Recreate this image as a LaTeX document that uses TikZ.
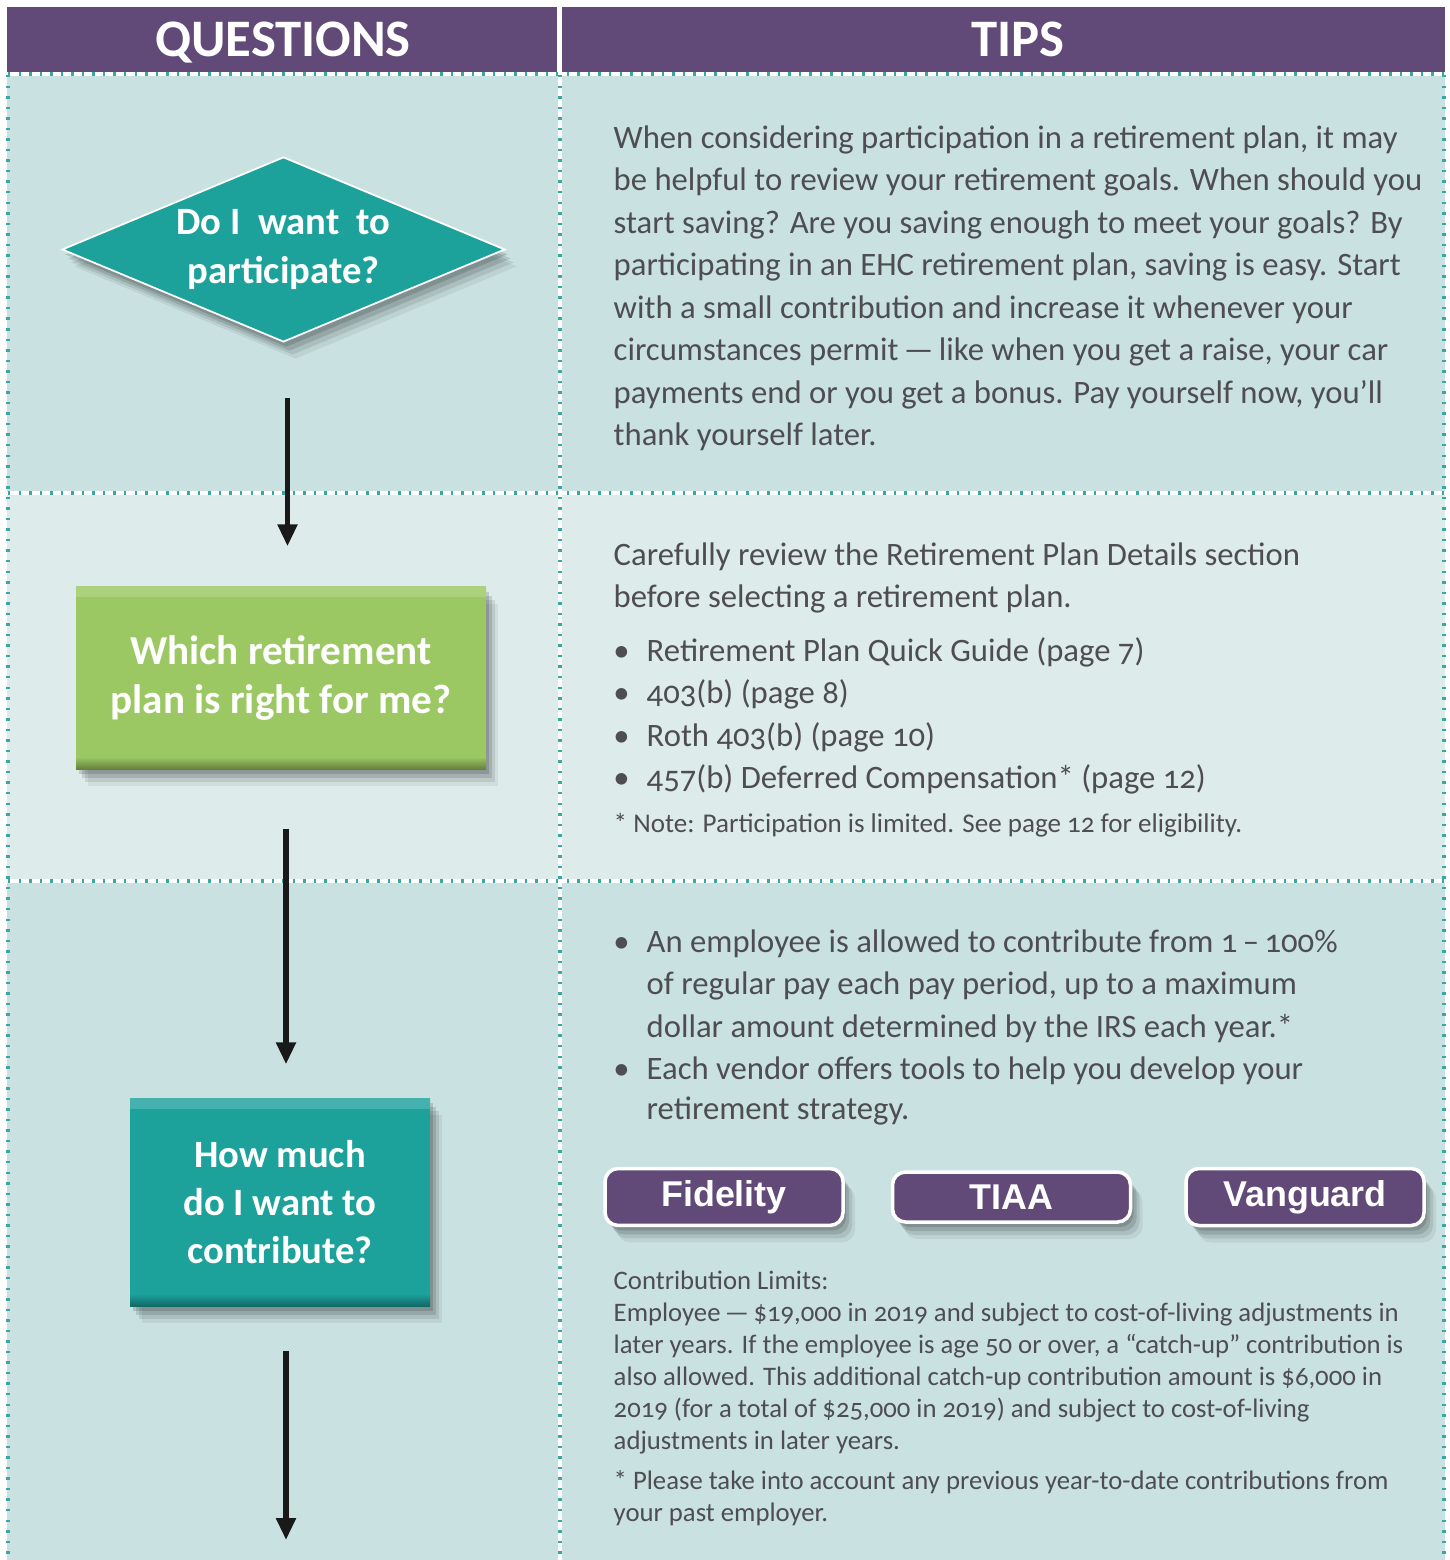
\documentclass[tikz,border=0pt]{standalone}
\usepackage{fontspec}
\setmainfont{Carlito}[Numbers=OldStyle]
\newfontfamily\vendorfont{Liberation Sans}
\usepackage{tikz}
\usetikzlibrary{
    arrows.meta,
    positioning,
    shapes.geometric,
    shadows
}
\usepackage{xcolor}
\definecolor{hdrpurple}{RGB}{97,74,120}
\definecolor{qteal}{RGB}{29,161,155}
\definecolor{qgreen}{RGB}{155,200,98}
\definecolor{rowdark}{RGB}{201,225,225}
\definecolor{rowlight}{RGB}{222,235,235}
\definecolor{tiptext}{RGB}{77,77,82}
\definecolor{dotteal}{RGB}{58,168,162}

\begin{document}
\begin{tikzpicture}[
        >={Triangle[length=0.22cm,width=0.19cm]},
        flow/.style={->, line width=1.5pt, draw=black!90},
        softshadow/.style={
            general shadow={shadow xshift=0.12cm, shadow yshift=-0.17cm,
                fill=black, opacity=0.06},
            general shadow={shadow xshift=0.09cm, shadow yshift=-0.13cm,
                fill=black, opacity=0.09},
            general shadow={shadow xshift=0.06cm, shadow yshift=-0.09cm,
                fill=black, opacity=0.12},
            general shadow={shadow xshift=0.03cm, shadow yshift=-0.05cm,
                fill=black, opacity=0.14}
        },
        bevel/.style={
            path picture={
                \fill[top color=white!18!#1, bottom color=#1]
                    (path picture bounding box.north west) rectangle
                    ([yshift=-0.10cm]path picture bounding box.north east);
                \fill[top color=#1, bottom color=black!35!#1]
                    ([yshift=0.12cm]path picture bounding box.south west) rectangle
                    (path picture bounding box.south east);
            }
        },
        question/.style={
            text=white,
            align=center,
            inner sep=0pt,
            font=\bfseries\fontsize{11}{13.7}\selectfont,
            softshadow
        },
        header/.style={
            anchor=base,
            text=white,
            font=\bfseries\fontsize{15}{15}\selectfont
        },
        tip/.style={
            anchor=base west,
            align=left,
            inner sep=0pt,
            text=tiptext,
            font=\fontsize{9.3}{12.1}\selectfont
        },
        smalltip/.style={
            tip,
            font=\fontsize{7.6}{9.1}\selectfont
        },
        vendor/.style={
            rounded corners=0.13cm,
            fill=hdrpurple,
            draw=white,
            line width=1pt,
            minimum width=2.38cm,
            minimum height=0.50cm,
            text=white,
            font=\vendorfont\bfseries\fontsize{10.2}{10.2}\selectfont,
            softshadow
        },
        divider/.style={white, line width=1pt},
        dots/.style={dotteal, line width=0.9pt, dash pattern=on 0.7pt off 2.3pt}
    ]
        \useasboundingbox (0,0) rectangle (14.49,-15.60);

        % backgrounds
        \fill[rowdark]  (0.07,-0.75) rectangle (14.45,-4.93);
        \fill[rowlight] (0.07,-4.93) rectangle (14.45,-8.81);
        \fill[rowdark]  (0.07,-8.81) rectangle (14.45,-15.60);
        \fill[hdrpurple] (0.07,-0.07) rectangle (5.57,-0.73);
        \fill[hdrpurple] (5.62,-0.07) rectangle (14.45,-0.73);

        % grid lines
        \foreach \y in {-0.74,-4.93,-8.81} {
            \draw[divider] (0.07,\y) -- (14.45,\y);
            \draw[dots] (0.08,\y) -- (14.44,\y);
        }
        \draw[divider] (5.60,-0.07) -- (5.60,-15.60);
        \draw[dots] (5.60,-0.75) -- (5.60,-15.60);
        \draw[dots] (0.08,-0.75) -- (0.08,-15.60);
        \draw[dots] (14.44,-0.75) -- (14.44,-15.60);

        % headers
        \node[header] (qhead) at (2.83,-0.565) {QUESTIONS};
        \node[header] (thead) at (10.18,-0.565) {TIPS};

        % questions
        \node[question, diamond, aspect=2.4, fill=qteal, draw=white, line width=0.5pt,
            minimum width=4.43cm, minimum height=1.85cm]
            (ask) at (2.835,-2.495) {Do\ I\ \ want\ \ to\\participate?};
        \node[question, rectangle, fill=qgreen, bevel=qgreen,
            minimum width=4.10cm, minimum height=1.82cm,
            font=\bfseries\fontsize{11.7}{13.7}\selectfont]
            (plan) at (2.81,-6.78) {Which retirement\\plan is right for me?};
        \node[question, rectangle, fill=qteal, bevel=qteal,
            minimum width=3.00cm, minimum height=2.08cm]
            (contrib) at (2.80,-12.02) {How much\\do I want to\\contribute?};
        \coordinate (qend) at (2.86,-15.40);

        \draw[flow, shorten <=0.55cm, shorten >=0.40cm]
            ([xshift=0.04cm]ask.south) -- ([xshift=0.04cm]ask.south |- plan.north);
        \draw[flow, shorten <=0.59cm, shorten >=0.33cm]
            ([xshift=0.05cm]plan.south) -- ([xshift=0.05cm]plan.south |- contrib.north);
        \draw[flow, shorten <=0.44cm]
            (contrib.south -| qend) -- (qend);

        % tips
        \node[tip] (tipjoin) at (6.13,-4.457) {When considering participation in a retirement plan, it may\\
            be helpful to review your retirement goals. When should you\\
            start saving? Are you saving enough to meet your goals? By\\
            participating in an EHC retirement plan, saving is easy. Start\\
            with a small contribution and increase it whenever your\\
            circumstances permit\,—\,like when you get a raise, your car\\
            payments end or you get a bonus. Pay yourself now, you’ll\\
            thank yourself later.};

        \node[tip] (tipplan) at (6.13,-6.077) {Carefully review the Retirement Plan Details section\\
            before selecting a retirement plan.};
        \node[tip] (tiplist) at (6.46,-7.89) {%
            \llap{\textbullet\hspace{0.17cm}}Retirement Plan Quick Guide (page 7)\\
            \llap{\textbullet\hspace{0.17cm}}403(b) (page 8)\\
            \llap{\textbullet\hspace{0.17cm}}Roth 403(b) (page 10)\\
            \llap{\textbullet\hspace{0.17cm}}457(b) Deferred Compensation* (page 12)};
        \node[tip, font=\fontsize{7.7}{9.1}\selectfont] (tipnote) at (6.13,-8.32)
            {* Note: Participation is limited. See page 12 for eligibility.};

        \node[tip] (tipamount) at (6.46,-10.375) {%
            \llap{\textbullet\hspace{0.17cm}}An employee is allowed to contribute from 1\,–\,100\%\\
            of regular pay each pay period, up to a maximum\\
            dollar amount determined by the IRS each year.*};
        \node[tip, font=\fontsize{9.3}{11.2}\selectfont] (tipvendor) at (6.46,-11.19) {%
            \llap{\textbullet\hspace{0.17cm}}Each vendor offers tools to help you develop your\\
            retirement strategy.};

        \node[vendor] (fidelity) at (7.24,-11.97) {Fidelity};
        \node[vendor] (tiaa) at (10.115,-11.97) {TIAA};
        \node[vendor] (vanguard) at (13.05,-11.97) {Vanguard};

        \node[smalltip] (limits) at (6.13,-14.495) {Contribution Limits:\\
            Employee\,—\,\$19,000 in 2019 and subject to cost-of-living adjustments in\\
            later years. If the employee is age 50 or over, a “catch-up” contribution is\\
            also allowed. This additional catch-up contribution amount is \$6,000 in\\
            2019 (for a total of \$25,000 in 2019) and subject to cost-of-living\\
            adjustments in later years.};
        \node[smalltip] (prior) at (6.13,-15.21) {* Please take into account any previous year-to-date contributions from\\
            your past employer.};
    \end{tikzpicture}
\end{document}
